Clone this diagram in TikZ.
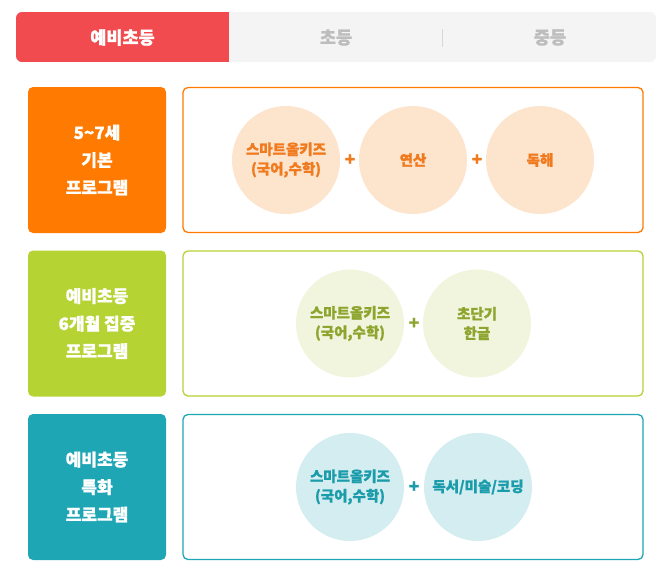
\documentclass[tikz,border=0pt]{standalone}
\usepackage{fontspec}
\newfontfamily\kr{Noto Sans CJK KR}[BoldFeatures={FakeBold=1.2}]
\definecolor{tabred}{HTML}{F24B4F}
\definecolor{tabgray}{HTML}{F4F4F4}
\definecolor{tabtext}{HTML}{BDBDBD}
\definecolor{orgA}{HTML}{FF7A00}
\definecolor{orgB}{HTML}{FDE4CD}
\definecolor{orgC}{HTML}{F07A1E}
\definecolor{grnA}{HTML}{B6D334}
\definecolor{grnB}{HTML}{F1F5DD}
\definecolor{grnC}{HTML}{8DA52E}
\definecolor{tealA}{HTML}{1EA6B4}
\definecolor{tealB}{HTML}{D4EDF0}
\definecolor{tealC}{HTML}{1A9CAA}
\begin{document}
\begin{tikzpicture}[x=1pt,y=1pt,
  every node/.style={inner sep=0pt, font=\kr\bfseries},
  tabtext/.style={font=\kr\bfseries\fontsize{17.5}{17.5}\selectfont},
  labelbox/.style={rectangle, rounded corners=5pt, fill=#1, minimum width=138pt, minimum height=146pt, text=white, align=center, font=\kr\bfseries\fontsize{17}{27.5}\selectfont},
  framebox/.style={rectangle, rounded corners=5pt, draw=#1, line width=1.3pt, fill=white, minimum width=460pt, minimum height=145pt},
  subject/.style={circle, minimum size=108pt, align=center, font=\kr\bfseries\fontsize{14.5}{19.5}\selectfont},
  plussign/.style={font=\kr\bfseries\fontsize{17}{17}\selectfont}]
\useasboundingbox (0,0) rectangle (672,-582);
% tab bar
\begin{scope}
\clip [rounded corners=6pt] (16,-12) rectangle (656,-62);
\fill [tabgray] (16,-12) rectangle (656,-62);
\fill [tabred] (16,-12) rectangle (229,-62);
\end{scope}
\draw [tabtext!60, line width=0.6pt] (442,-29) -- (442,-47);
\node [tabtext, text=white] (tabpre) at (122.5,-37.5) {예비초등};
\node [tabtext, text=tabtext] (tabele) at (336,-37.5) {초등};
\node [tabtext, text=tabtext] (tabmid) at (550,-37.5) {중등};
% row 1
\node [labelbox=orgA] (lblA) at (97,-160) {5\textasciitilde7세\\기본\\프로그램};
\node [framebox=orgA] (frmA) at (413,-160) {};
\node [subject, fill=orgB, text=orgC] (smartA) at (286,-160) {스마트올키즈\\(국어,수학)};
\node [subject, fill=orgB, text=orgC] (calcA) at (413,-160) {연산};
\node [subject, fill=orgB, text=orgC] (readA) at (540,-160) {독해};
\node [plussign, text=orgC] (plusA) at (350,-160) {+};
\node [plussign, text=orgC] (plusB) at (477,-160) {+};
% row 2
\node [labelbox=grnA] (lblB) at (97,-323.5) {예비초등\\6개월 집중\\프로그램};
\node [framebox=grnA] (frmB) at (413,-323.5) {};
\node [subject, fill=grnB, text=grnC] (smartB) at (350,-323.5) {스마트올키즈\\(국어,수학)};
\node [subject, fill=grnB, text=grnC] (hangulB) at (477,-323.5) {초단기\\한글};
\node [plussign, text=grnC] (plusC) at (414,-323.5) {+};
% row 3
\node [labelbox=tealA] (lblC) at (97,-487) {예비초등\\특화\\프로그램};
\node [framebox=tealA] (frmC) at (413,-487) {};
\node [subject, fill=tealB, text=tealC] (smartC) at (350,-487) {스마트올키즈\\(국어,수학)};
\node [subject, fill=tealB, text=tealC] (artC) at (478,-487) {독서/미술/코딩};
\node [plussign, text=tealC] (plusD) at (414,-487) {+};
\end{tikzpicture}
\end{document}
